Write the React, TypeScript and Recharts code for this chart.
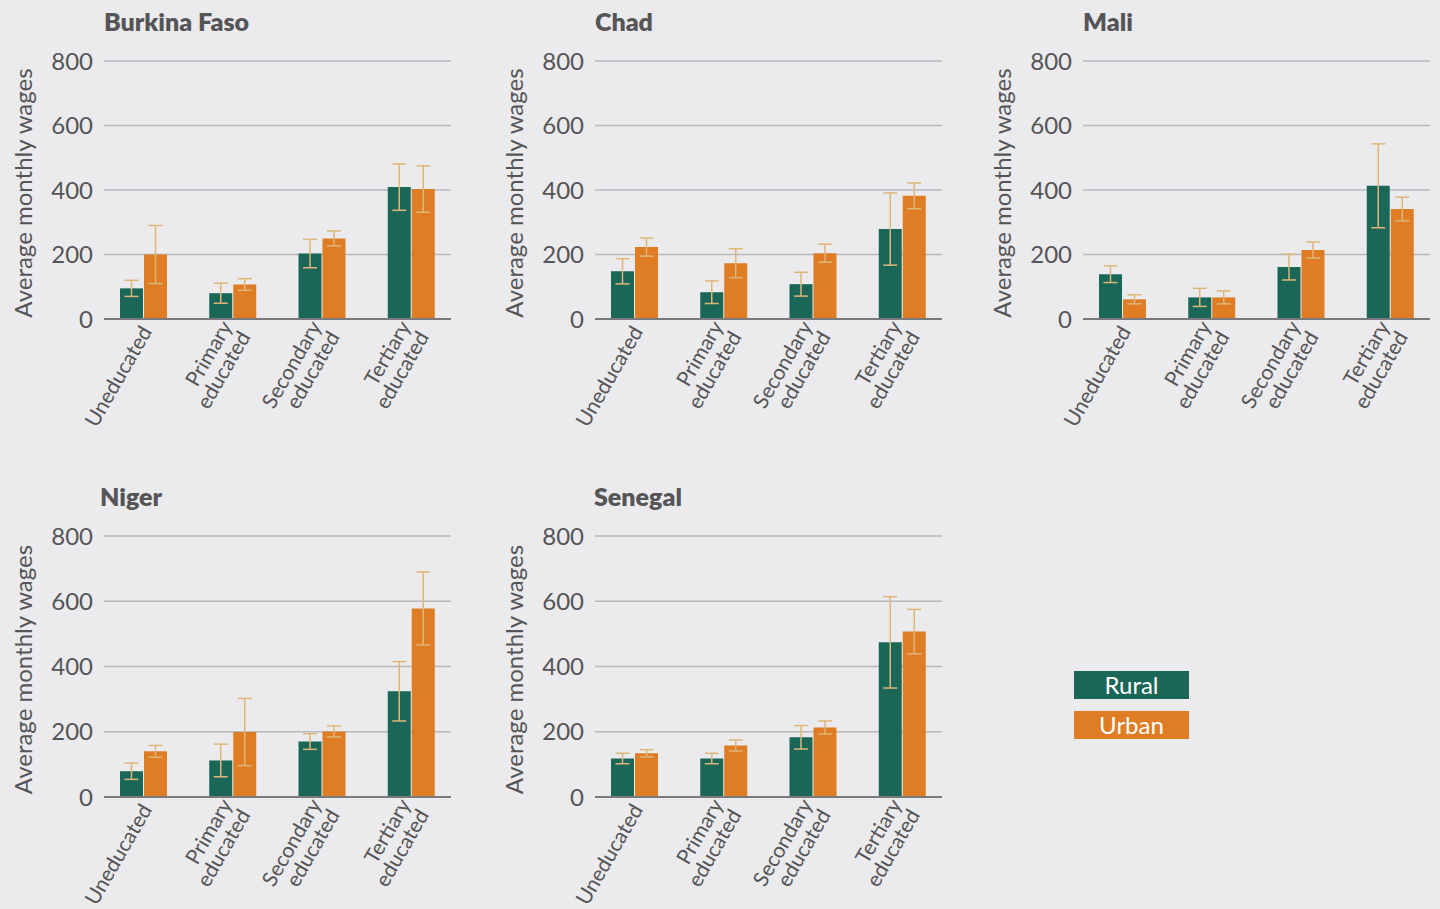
import React from 'react';
import { BarChart, Bar, XAxis, YAxis, CartesianGrid, ErrorBar } from 'recharts';

const categories = ['Uneducated', 'Primary educated', 'Secondary educated', 'Tertiary educated'];
const tickLines: Record<string, string[]> = {
  'Uneducated': ['Uneducated'],
  'Primary educated': ['Primary', 'educated'],
  'Secondary educated': ['Secondary', 'educated'],
  'Tertiary educated': ['Tertiary', 'educated'],
};
const yTicks = [0, 200, 400, 600, 800];

const burkinaRural = [95, 80, 203, 409];
const burkinaRuralErr = [25, 31, 44, 72];
const burkinaUrban = [200, 107, 250, 403];
const burkinaUrbanErr = [90, 18, 23, 72];

const chadRural = [148, 83, 108, 279];
const chadRuralErr = [39, 35, 37, 112];
const chadUrban = [223, 173, 204, 382];
const chadUrbanErr = [28, 45, 28, 40];

const maliRural = [139, 67, 161, 413];
const maliRuralErr = [26, 28, 40, 130];
const maliUrban = [61, 67, 214, 341];
const maliUrbanErr = [14, 20, 25, 37];

const nigerRural = [79, 112, 170, 324];
const nigerRuralErr = [25, 50, 24, 91];
const nigerUrban = [140, 199, 201, 578];
const nigerUrbanErr = [18, 103, 17, 112];

const senegalRural = [118, 118, 183, 474];
const senegalRuralErr = [16, 16, 36, 140];
const senegalUrban = [134, 158, 213, 507];
const senegalUrbanErr = [11, 17, 20, 68];

const GREEN = '#1a6657';
const ORANGE = '#de7d24';
const ERR = '#dfb679';
const TEXT = '#555558';
const BG = '#ebebed';
const FONT = 'Lato, "Open Sans", sans-serif';

const EduTick = (props: any) => {
  const { x, y, payload } = props;
  const lines = tickLines[payload.value] || [payload.value];
  const lh = 21;
  return (
    <g transform={`translate(${x + 3},${y}) rotate(-60)`}>
      <text textAnchor="end" fill={TEXT} fontSize={21} fontFamily={FONT}>
        {lines.map((l, i) => (
          <tspan key={i} x={0} dy={i === 0 ? 7 - ((lines.length - 1) * lh) / 2 : lh}>
            {l}
          </tspan>
        ))}
      </text>
    </g>
  );
};

const YLabel = (props: any) => {
  const vb = props.viewBox || { x: 0, y: 0, width: 0, height: 0 };
  const cx = 22;
  const cy = vb.y + vb.height / 2 + 3;
  return (
    <text
      x={cx}
      y={cy}
      transform={`rotate(-90, ${cx}, ${cy})`}
      textAnchor="middle"
      dominantBaseline="central"
      fill={TEXT}
      fontSize={24}
      fontFamily={FONT}
    >
      Average monthly wages
    </text>
  );
};

interface PanelProps {
  title: string;
  titleLeft: number;
  rural: number[];
  ruralErr: number[];
  urban: number[];
  urbanErr: number[];
  left: number;
  top: number;
  height: number;
  bottom: number;
}

const Panel: React.FC<PanelProps> = ({ title, titleLeft, rural, ruralErr, urban, urbanErr, left, top, height, bottom }) => {
  const data = categories.map((c, i) => ({
    name: c,
    rural: rural[i],
    ruralErr: ruralErr[i],
    urban: urban[i],
    urbanErr: urbanErr[i],
  }));
  return (
    <div style={{ position: 'absolute', left, top, width: 470, height }}>
      <div
        style={{
          position: 'absolute',
          left: titleLeft,
          top: 6,
          fontFamily: FONT,
          fontWeight: 800,
          fontSize: 25,
          lineHeight: '30px',
          color: TEXT,
        }}
      >
        {title}
      </div>
      <BarChart
        width={470}
        height={height}
        data={data}
        margin={{ top: 61, right: 19, left: 0, bottom }}
        barSize={23}
        barGap={1}
      >
        <CartesianGrid vertical={false} stroke="#b9b9bc" strokeWidth={1.5} />
        <XAxis
          dataKey="name"
          interval={0}
          height={30}
          tick={<EduTick />}
          tickLine={false}
          tickSize={0}
          tickMargin={9}
          axisLine={{ stroke: '#7a7a7d', strokeWidth: 2 }}
          padding={{ left: -5, right: -5 }}
        />
        <YAxis
          width={104}
          domain={[0, 800]}
          ticks={yTicks}
          axisLine={false}
          tickLine={false}
          tickSize={0}
          tickMargin={11}
          tick={{ fill: TEXT, fontSize: 24, fontFamily: FONT }}
          label={<YLabel />}
        />
        <Bar dataKey="rural" fill={GREEN} isAnimationActive={false}>
          <ErrorBar dataKey="ruralErr" width={7} stroke={ERR} strokeWidth={1.5} />
        </Bar>
        <Bar dataKey="urban" fill={ORANGE} isAnimationActive={false}>
          <ErrorBar dataKey="urbanErr" width={7} stroke={ERR} strokeWidth={1.5} />
        </Bar>
      </BarChart>
    </div>
  );
};

const legendBox = (label: string, color: string, top: number) => (
  <div
    style={{
      position: 'absolute',
      left: 1074,
      top,
      width: 115,
      height: 28,
      background: color,
      color: '#ffffff',
      fontFamily: FONT,
      fontSize: 24,
      lineHeight: '28px',
      textAlign: 'center',
    }}
  >
    {label}
  </div>
);

export default function App() {
  return (
    <div style={{ position: 'absolute', left: 0, top: 0, width: 1440, height: 909, background: BG, overflow: 'hidden' }}>
      <Panel title="Burkina Faso" titleLeft={104} rural={burkinaRural} ruralErr={burkinaRuralErr} urban={burkinaUrban} urbanErr={burkinaUrbanErr} left={0} top={0} height={440} bottom={91} />
      <Panel title="Chad" titleLeft={104} rural={chadRural} ruralErr={chadRuralErr} urban={chadUrban} urbanErr={chadUrbanErr} left={491} top={0} height={440} bottom={91} />
      <Panel title="Mali" titleLeft={104} rural={maliRural} ruralErr={maliRuralErr} urban={maliUrban} urbanErr={maliUrbanErr} left={979} top={0} height={440} bottom={91} />
      <Panel title="Niger" titleLeft={100} rural={nigerRural} ruralErr={nigerRuralErr} urban={nigerUrban} urbanErr={nigerUrbanErr} left={0} top={475} height={434} bottom={82} />
      <Panel title="Senegal" titleLeft={103} rural={senegalRural} ruralErr={senegalRuralErr} urban={senegalUrban} urbanErr={senegalUrbanErr} left={491} top={475} height={434} bottom={82} />
      {legendBox('Rural', GREEN, 671)}
      {legendBox('Urban', ORANGE, 711)}
    </div>
  );
}
